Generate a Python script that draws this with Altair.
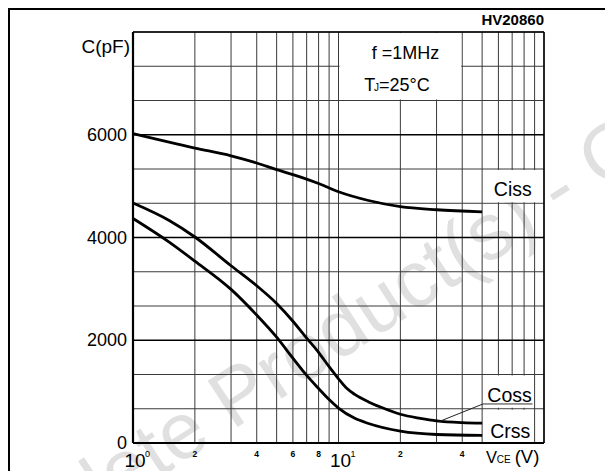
import altair as alt
import pandas as pd

# ---------------- data ----------------
v_ciss = [1, 2, 3, 4, 5, 6.5, 8, 10, 14, 20, 30, 50]
c_ciss = [6020, 5740, 5590, 5450, 5320, 5180, 5050, 4890, 4720, 4600, 4540, 4500]

v_coss = [1, 1.5, 2, 3, 4, 5, 6, 7, 8, 9, 10, 11, 12, 14, 16, 20, 25, 30, 40, 50]
c_coss = [4670, 4330, 4010, 3450, 3060, 2715, 2370, 2040, 1765, 1485, 1250, 1060,
          945, 800, 700, 560, 480, 430, 395, 385]

v_crss = [1, 1.5, 2, 3, 4, 5, 6, 7, 8, 9, 10, 12, 14, 20, 30, 50]
c_crss = [4370, 3910, 3540, 2990, 2490, 2060, 1650, 1315, 1060, 845, 680, 480,
          380, 230, 165, 148]

series_names = ["Ciss", "Coss", "Crss"]
label_v = [70.5, 68, 68.5]
label_c = [4810, 800, 95]

x_grid = [1, 2, 3, 4, 5, 6, 7, 8, 9, 10, 20, 30, 40, 50, 60, 70, 80, 90, 100]
y_grid = [k * 2000 / 3 for k in range(13)]
y_ticks = [0, 2000, 4000, 6000]
y_tick_labels = ["0", "2000", "4000", "6000"]
x_minor_ticks = [2, 4, 6, 8, 20, 40]
x_minor_labels = ["2", "4", "6", "8", "2", "4"]
x_decades = [1, 10]
x_decade_exp = ["0", "1"]

# white label cells (grid cells without inner lines)
box_v0 = [10, 50, 50, 50]
box_v1 = [40, 100, 90, 90]
box_c0 = [20000 / 3, 14000 / 3, 2000 / 3, 0]
box_c1 = [8000, 16000 / 3, 4000 / 3, 2000 / 3]

# ---------------- layout ----------------
W, H = 411, 411
PAD = {"left": 125, "top": 24, "right": 61, "bottom": 28}
FONT = "Liberation Sans"
GRID = "#3a3a3a"

xs = alt.Scale(type="log", domain=[1, 100])
ys = alt.Scale(domain=[0, 8000])


def X(f):
    return alt.X(f, type="quantitative", scale=xs, axis=None)


def Y(f):
    return alt.Y(f, type="quantitative", scale=ys, axis=None)


one = pd.DataFrame({"a": [0]})

watermark = alt.Chart(one).mark_text(
    text="Obsolete Product(s) - Obsolete Product(s)", angle=327, fontSize=80,
    font=FONT, color="#e0e0e0", align="left", baseline="alphabetic"
).encode(x=alt.value(-188), y=alt.value(585))

df_v = pd.DataFrame({"v": x_grid, "c0": 0, "c1": 8000})
vgrid = alt.Chart(df_v).mark_rule(color=GRID, strokeWidth=1).encode(
    x=X("v"), y=Y("c0"), y2=alt.Y2("c1"))

df_h = pd.DataFrame({"c": y_grid, "v0": 1, "v1": 100})
df_h["major"] = df_h["c"].round().isin(y_ticks)
hgrid_minor = alt.Chart(df_h[~df_h["major"]]).mark_rule(color=GRID, strokeWidth=1).encode(
    y=Y("c"), x=X("v0"), x2=alt.X2("v1"))
hgrid_major = alt.Chart(df_h[df_h["major"]]).mark_rule(color="#000000", strokeWidth=1.3).encode(
    y=Y("c"), x=X("v0"), x2=alt.X2("v1"))

df_box = pd.DataFrame({"v0": box_v0, "v1": box_v1, "c0": box_c0, "c1": box_c1})
boxes = alt.Chart(df_box).mark_rect(
    color="white", xOffset=1, x2Offset=-1, yOffset=1, y2Offset=-1
).encode(x=X("v0"), x2=alt.X2("v1"), y=Y("c1"), y2=alt.Y2("c0"))

# plot frame
frame_left = alt.Chart(one).mark_rule(color="black", strokeWidth=2.2).encode(
    x=X("v:Q"), y=Y("c0:Q"), y2=alt.Y2("c1")).transform_calculate(v="1", c0="0", c1="8000")
frame_bottom = alt.Chart(one).mark_rule(color="black", strokeWidth=2.2).encode(
    y=Y("c:Q"), x=X("v0:Q"), x2=alt.X2("v1")).transform_calculate(c="0", v0="1", v1="100")
frame_right = alt.Chart(one).mark_rule(color="black", strokeWidth=1.5).encode(
    x=X("v:Q"), y=Y("c0:Q"), y2=alt.Y2("c1")).transform_calculate(v="100", c0="0", c1="8000")
frame_top = alt.Chart(one).mark_rule(color="black", strokeWidth=1.5).encode(
    y=Y("c:Q"), x=X("v0:Q"), x2=alt.X2("v1")).transform_calculate(c="8000", v0="1", v1="100")

# outer picture border (top and left)
border_top = alt.Chart(one).mark_rule(color="black", strokeWidth=2).encode(
    x=alt.value(-125), x2=alt.value(W + 61), y=alt.value(-23))
border_left = alt.Chart(one).mark_rule(color="black", strokeWidth=2).encode(
    x=alt.value(-124), y=alt.value(-24), y2=alt.value(H + 28))

# curves
rows = []
for name, vv, cc in zip(series_names, [v_ciss, v_coss, v_crss], [c_ciss, c_coss, c_crss]):
    for a, b in zip(vv, cc):
        rows.append({"s": name, "v": a, "c": b})
df_curves = pd.DataFrame(rows)
curves = alt.Chart(df_curves).mark_line(
    color="black", strokeWidth=2.8, interpolate="monotone"
).encode(x=X("v"), y=Y("c"), detail="s:N")

df_lab = pd.DataFrame({"t": series_names, "v": label_v, "c": label_c})
curve_labels = alt.Chart(df_lab).mark_text(
    font=FONT, fontSize=19.5, align="center", baseline="alphabetic", color="black"
).encode(x=X("v"), y=Y("c"), text="t:N")

# Coss underline and leader
underline = alt.Chart(one).mark_rule(color="#333333", strokeWidth=1).encode(
    x=X("v0:Q"), x2=alt.X2("v1"), y=Y("c:Q")
).transform_calculate(v0="50.5", v1="88", c="760")
leader = alt.Chart(one).mark_rule(color="#222222", strokeWidth=1).encode(
    x=X("v0:Q"), x2=alt.X2("v1"), y=Y("c0:Q"), y2=alt.Y2("c1")
).transform_calculate(v0="50.5", v1="31", c0="760", c1="420")

# axis tick labels
df_yt = pd.DataFrame({"c": y_ticks, "t": y_tick_labels})
y_labels = alt.Chart(df_yt).mark_text(
    font=FONT, fontSize=18, align="right", baseline="middle", dx=-6, dy=1, color="black"
).encode(y=Y("c"), x=alt.value(0), text="t:N")

df_xm = pd.DataFrame({"v": x_minor_ticks, "t": x_minor_labels})
x_minor = alt.Chart(df_xm).mark_text(
    font=FONT, fontSize=8.5, fontWeight="bold", align="center", baseline="alphabetic", color="black"
).encode(x=X("v"), y=alt.value(H + 13.5), text="t:N")

df_xd = pd.DataFrame({"v": x_decades, "e": x_decade_exp})
df_xd["t"] = "10"
x_dec = alt.Chart(df_xd).mark_text(
    font=FONT, fontSize=19, align="center", baseline="alphabetic", dx=2, color="black"
).encode(x=X("v"), y=alt.value(H + 23.5), text="t:N")
x_exp = alt.Chart(df_xd).mark_text(
    font=FONT, fontSize=9, align="left", baseline="alphabetic", dx=12, color="black"
).encode(x=X("v"), y=alt.value(H + 14), text="e:N")

# other texts
def txt(s, x, y, size, align="left", weight="normal", font=FONT):
    return alt.Chart(one).mark_text(
        text=s, font=font, fontSize=size, align=align, baseline="alphabetic",
        fontWeight=weight, color="black"
    ).encode(x=alt.value(x), y=alt.value(y))

texts = [
    txt("HV20860", W, -7, 15, align="right", weight="bold"),
    txt("C(pF)", -3, 21, 19, align="right"),
    txt("f =1MHz", 272.5, 27.3, 18, align="center"),
    txt("T", 231.3, 59, 18),
    txt("J", 241, 59, 10),
    txt("=25°C", 246, 59, 18),
    txt("V", 353, 431.3, 16.5),
    txt("CE", 363.7, 431.3, 10),
    txt("(V)", 394, 431.3, 18.5, align="center"),
]

chart = alt.layer(
    watermark, vgrid, hgrid_minor, hgrid_major, boxes,
    frame_left, frame_bottom, frame_right, frame_top,
    border_top, border_left,
    curves, curve_labels, underline, leader,
    y_labels, x_minor, x_dec, x_exp, *texts
).properties(
    width=W, height=H, padding=PAD,
    autosize=alt.AutoSizeParams(type="none"), background="white"
).configure_view(stroke=None)

chart.save("out.html", embed_options={"renderer": "svg", "actions": False})
